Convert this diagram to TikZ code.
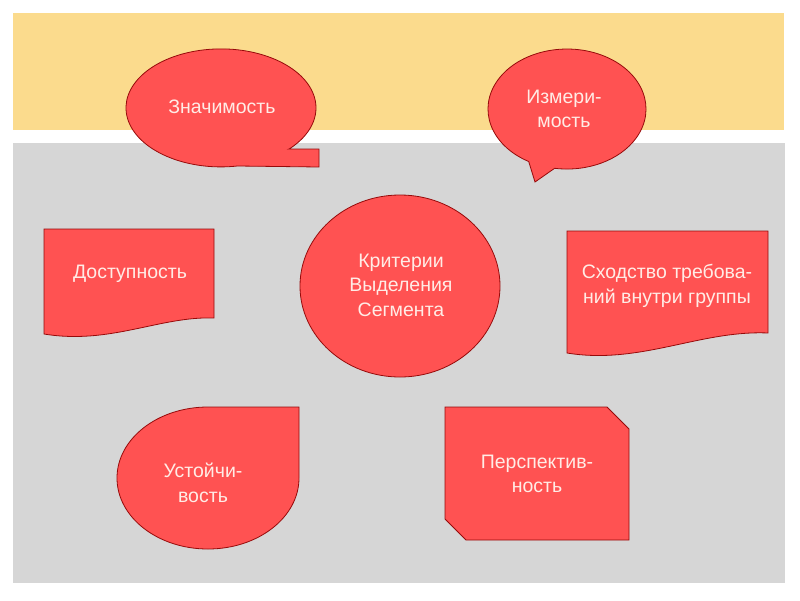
\documentclass[tikz,border=0pt]{standalone}
\usepackage{fontspec}
\setmainfont{Liberation Sans}
\definecolor{bandyellow}{RGB}{251,219,141}
\definecolor{bandgray}{RGB}{214,214,214}
\definecolor{shapered}{RGB}{255,82,82}
\definecolor{shapeline}{RGB}{150,10,10}
\definecolor{labelpink}{RGB}{255,236,230}
\tikzset{
  redshape/.style={fill=shapered, draw=shapeline, line width=0.8pt, line join=miter},
  lbl/.style={text=labelpink, font=\fontsize{19.5}{24.5}\selectfont, align=center, inner sep=0pt}
}
\begin{document}
\begin{tikzpicture}[x=1pt,y=-1pt]
\useasboundingbox (0,0) rectangle (800,600);
\fill[white] (0,0) rectangle (800,600);
\fill[bandyellow] (13,13) rectangle (784,130);
\fill[bandgray] (13,143) rectangle (785,583);
% Значимость callout
\draw[redshape] (289,149) -- (319,149) -- (319,167) -- (237.5,166)
  arc[start angle=80, end angle=404, x radius=95, y radius=59] -- cycle;
% Измеримость callout
\draw[redshape] (535,182) -- (528.7,161.5)
  arc[start angle=119, end angle=459, x radius=79, y radius=60] -- cycle;
% Доступность document
\draw[redshape] (44,229) -- (214,229) -- (214,318)
  .. controls (160,316) and (110,345) .. (44,334) -- cycle;
% Сходство document
\draw[redshape] (567,231) -- (768,231) -- (768,333)
  .. controls (700,330) and (640,365) .. (567,353) -- cycle;
% центр
\draw[redshape] (400,286) ellipse[x radius=100, y radius=91];
% Устойчивость teardrop
\draw[redshape] (299,407) -- (208,407)
  arc[start angle=270, end angle=0, x radius=91, y radius=71] -- cycle;
% Перспективность snipped rectangle
\draw[redshape] (445,407) -- (607,407) -- (629,429) -- (629,540) -- (466,540) -- (445,519) -- cycle;
% labels
\node[lbl] (t1) at (222,107) {Значимость};
\node[lbl] (t2) at (564,109) {Измери-\\мость};
\node[lbl] (t3) at (130,274) {Доступность};
\node[lbl] (t4) at (667,286) {Сходство требова-\\ний внутри группы};
\node[lbl] (t5) at (401,285) {Критерии\\Выделения\\Сегмента};
\node[lbl] (t6) at (203,483) {Устойчи-\\вость};
\node[lbl] (t7) at (537,474) {Перспектив-\\ность};
\end{tikzpicture}
\end{document}
